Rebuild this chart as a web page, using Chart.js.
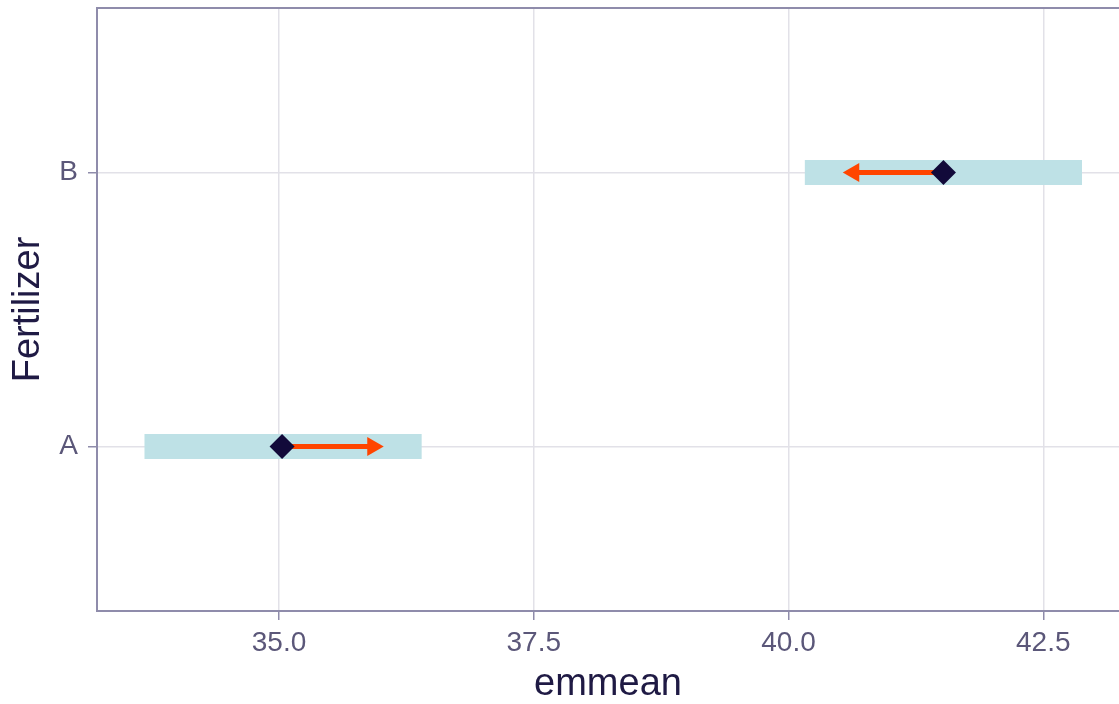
<!DOCTYPE html>
<html>
<head>
<meta charset="utf-8">
<script src="https://cdn.jsdelivr.net/npm/chart.js@4.4.0/dist/chart.umd.min.js"></script>
<style>
  html, body { margin: 0; padding: 0; background: #ffffff; }
  #wrap { width: 1119px; height: 704px; }
</style>
</head>
<body>
<div id="wrap"><canvas id="chart"></canvas></div>
<script>
// values
var groups = ['A', 'B'];
var emmean = [35.03, 41.52];
var lowerCL = [33.68, 40.16];
var upperCL = [36.40, 42.88];
var arrowEnd = [35.92, 40.64];   // centre of each comparison arrow head
var xTicks = [35.0, 37.5, 40.0, 42.5];
var yTicks = [1, 2];

var axisCol = '#8f8cab'
var gridCol = '#e2e1e8'
var tickTextCol = '#5b5779'
var titleCol = '#1f1a44'
var fontFam = 'Liberation Sans, Arial, sans-serif'

var datasets = []

// diamonds on top (first dataset is drawn last)
datasets.push({
    type: 'scatter',
    data: groups.map(function (g, i) { return { x: emmean[i], y: i + 1 } }),
    pointStyle: 'rectRot',
    pointRadius: 12.5,
    pointHoverRadius: 12.5,
    backgroundColor: '#120a3a',
    borderColor: '#120a3a',
    borderWidth: 0
})

// comparison arrows
groups.forEach(function (g, i) {
    var dir = arrowEnd[i] > emmean[i] ? 90 : -90
    datasets.push({
        type: 'line',
        data: [{ x: emmean[i], y: i + 1 }, { x: arrowEnd[i], y: i + 1 }],
        borderColor: '#ff4500',
        borderWidth: 5,
        backgroundColor: '#ff4500',
        pointStyle: 'triangle',
        pointRotation: dir,
        pointRadius: [0, 11],
        pointHoverRadius: [0, 11],
        pointBorderWidth: 0,
        fill: false
    })
})

// confidence intervals behind everything
groups.forEach(function (g, i) {
    datasets.push({
        type: 'line',
        data: [{ x: lowerCL[i], y: i + 1 }, { x: upperCL[i], y: i + 1 }],
        borderColor: '#bee1e6',
        borderWidth: 25,
        borderCapStyle: 'butt',
        pointRadius: 0,
        pointHoverRadius: 0,
        fill: false
    })
})

// top edge of the panel frame
var frame = {
    id: 'frame',
    beforeDatasetsDraw: function (chart) {
        var a = chart.chartArea, ctx = chart.ctx
        ctx.save()
        ctx.strokeStyle = axisCol
        ctx.lineWidth = 2
        ctx.beginPath()
        ctx.moveTo(a.left, a.top)
        ctx.lineTo(a.right, a.top)
        ctx.stroke()
        ctx.restore()
    }
}

new Chart(document.getElementById('chart'), {
    type: 'scatter',
    data: { datasets: datasets },
    plugins: [frame],
    options: {
        responsive: true,
        maintainAspectRatio: false,
        animation: false,
        events: [],
        layout: { autoPadding: false, padding: { top: 8, right: 0, left: 0, bottom: 0 } },
        plugins: { legend: { display: false }, tooltip: { enabled: false } },
        scales: {
            x: {
                type: 'linear',
                min: 33.214,
                max: 43.243,
                afterBuildTicks: function (s) { s.ticks = xTicks.map(function (v) { return { value: v } }) },
                afterFit: function (s) {
                    s.height = 93
                    s.paddingLeft = 0
                    s.paddingRight = 0
                },
                grid: { color: gridCol, lineWidth: 1.5, tickLength: 9, tickColor: axisCol, tickWidth: 1.5 },
                border: { color: axisCol, width: 2 },
                ticks: {
                    color: tickTextCol,
                    font: { family: fontFam, size: 28 },
                    padding: 6,
                    maxRotation: 0,
                    callback: function (v) { return v.toFixed(1) }
                },
                title: {
                    display: true,
                    text: 'emmean',
                    color: titleCol,
                    font: { family: fontFam, size: 38, lineHeight: 1.05 },
                    padding: { top: 0, bottom: 0 }
                }
            },
            y: {
                type: 'linear',
                min: 0.4,
                max: 2.6,
                afterBuildTicks: function (s) { s.ticks = yTicks.map(function (v) { return { value: v } }) },
                afterFit: function (s) {
                    s.width = 97
                    s.paddingTop = 0
                    s.paddingBottom = 0
                },
                grid: { color: gridCol, lineWidth: 1.5, tickLength: 9, tickColor: axisCol, tickWidth: 1.5 },
                border: { color: axisCol, width: 2 },
                ticks: {
                    color: tickTextCol,
                    font: { family: fontFam, size: 28 },
                    padding: 10,
                    callback: function (v) { return groups[v - 1] }
                },
                title: {
                    display: true,
                    text: 'Fertilizer',
                    color: titleCol,
                    font: { family: fontFam, size: 38 },
                    padding: { top: 6, bottom: 0 }
                }
            }
        }
    }
})
</script>
</body>
</html>
